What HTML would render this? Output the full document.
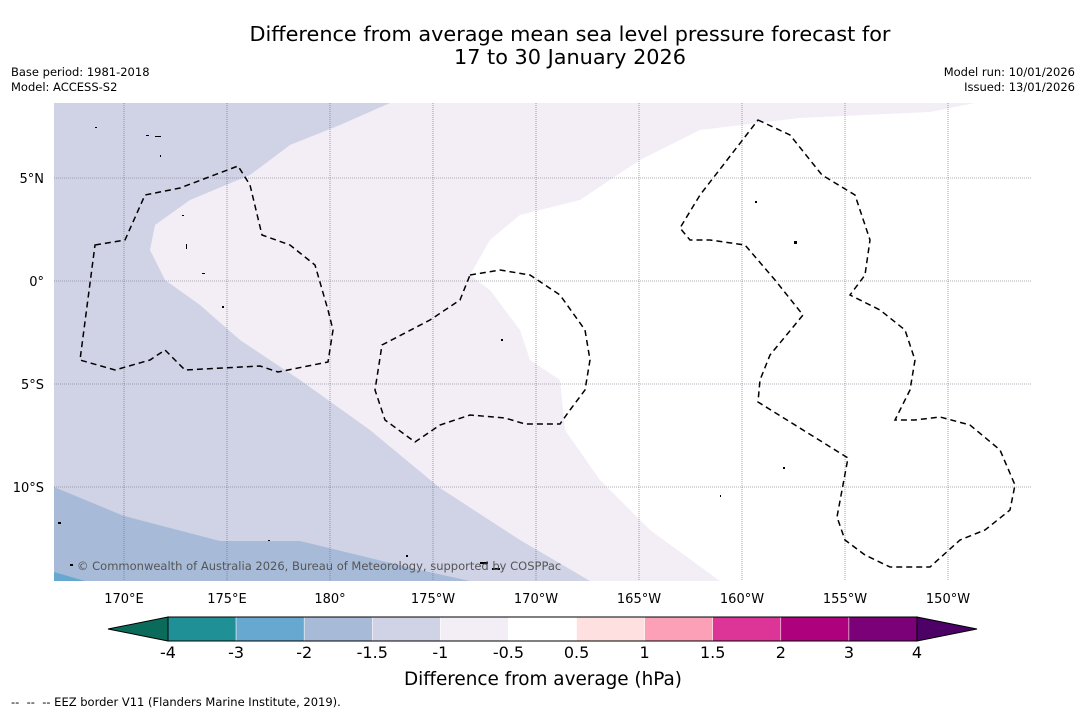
<!DOCTYPE html>
<html><head><meta charset="utf-8"><style>
body{margin:0;background:#fff;width:1085px;height:713px;overflow:hidden;font-family:"DejaVu Sans","Liberation Sans",sans-serif}
svg{display:block}
</style></head><body>
<svg id="fig" width="1085" height="713">
<text x="570" y="41" font-size="20.8" text-anchor="middle">Difference from average mean sea level pressure forecast for</text>
<text x="570" y="64" font-size="20.8" text-anchor="middle">17 to 30 January 2026</text>
<text x="11" y="76" font-size="11.5">Base period: 1981-2018</text>
<text x="11" y="91" font-size="11.5">Model: ACCESS-S2</text>
<text x="1075" y="76" font-size="11.5" text-anchor="end">Model run: 10/01/2026</text>
<text x="1075" y="91" font-size="11.5" text-anchor="end">Issued: 13/01/2026</text>
<defs><clipPath id="mc"><rect x="54" y="103" width="977" height="478"/></clipPath></defs>
<g clip-path="url(#mc)">
<rect x="54" y="103" width="977" height="478" fill="#d0d2e6"/>
<path d="M390,103 L340,125 L290,145 L250,175 L190,200 L155,225 L150,250 L165,280 L200,305 L240,340 L300,380 L370,430 L440,488 L520,540 L590,581 L1031,581 L1031,103Z" fill="#f3eef6"/>
<path d="M975,103 L930,112 L800,118 L700,130 L640,160 L580,200 L520,215 L490,240 L470,275 L490,290 L520,330 L530,360 L560,380 L565,430 L600,480 L650,530 L720,581 L1031,581 L1031,103Z" fill="#ffffff"/>
<path d="M54,487 L124,516 L220,541 L300,541 L420,570 L470,581 L54,581Z" fill="#a7bbd8"/>
<path d="M54,572 L85,581 L54,581Z" fill="#66a8cf"/>
<g id="grid"></g>
<g fill="none" stroke="#000" stroke-width="1.5" stroke-dasharray="6,4">
<path d="M95,245 L125,240 L145,195 L180,188 L238,166 L250,185 L262,235 L290,245 L315,265 L328,310 L333,330 L328,362 L278,372 L260,366 L185,370 L165,350 L150,360 L115,370 L80,360 Z"/>
<path d="M470,275 L500,270 L530,275 L560,295 L585,330 L590,360 L585,390 L570,410 L560,424 L525,424 L505,418 L470,415 L440,425 L415,442 L385,420 L375,390 L382,345 L430,320 L460,300 Z"/>
<path d="M758,120 L790,135 L822,175 L855,195 L870,240 L865,275 L850,295 L880,310 L905,330 L915,360 L910,390 L895,420 L915,420 L940,417 L970,425 L1000,450 L1015,485 L1010,510 L985,530 L960,540 L930,567 L890,567 L865,555 L845,540 L837,517 L848,458 L758,402 L760,380 L770,355 L803,315 L775,280 L745,245 L710,240 L690,240 L680,228 L700,195 Z"/>
</g>
<g fill="#000">
<rect x="146" y="135" width="3" height="1"/><rect x="155" y="136" width="6" height="1"/><rect x="95" y="127" width="2" height="1"/><rect x="160" y="155" width="1" height="2"/>
<rect x="182" y="215" width="2" height="1"/><rect x="186" y="244" width="1" height="5"/><rect x="202" y="273" width="3" height="1"/>
<rect x="222" y="306" width="2" height="2"/><rect x="501" y="339" width="2" height="2"/><rect x="755" y="201" width="2" height="2"/>
<rect x="794" y="241" width="3" height="3"/><rect x="783" y="467" width="2" height="2"/><rect x="720" y="495" width="1" height="2"/>
<rect x="480" y="562" width="8" height="2"/><rect x="492" y="568" width="8" height="2"/><rect x="58" y="522" width="3" height="2"/>
<rect x="268" y="540" width="2" height="1"/><rect x="406" y="555" width="2" height="2"/><rect x="70" y="564" width="3" height="2"/>
</g>
<text x="77" y="570" font-size="11.5" fill="#555">© Commonwealth of Australia 2026, Bureau of Meteorology, supported by COSPPac</text>
</g>
<g id="axes"></g>
<g id="cbar"></g>
<text x="543" y="685" font-size="18.4" text-anchor="middle">Difference from average (hPa)</text>
<text x="11" y="706" font-size="11.5" style="white-space:pre">--  --  -- EEZ border V11 (Flanders Marine Institute, 2019).</text>
</svg>
<script>
const lonTicks=[170,175,180,185,190,195,200,205,210];
const lonLabels=["170°E","175°E","180°","175°W","170°W","165°W","160°W","155°W","150°W"];
const latTicks=[5,0,-5,-10];
const latLabels=["5°N","0°","5°S","10°S"];
const levels=["-4","-3","-2","-1.5","-1","-0.5","0.5","1","1.5","2","3","4"];
const colors=["#1f9196","#66a8cf","#a7bbd8","#d0d2e6","#f3eef6","#ffffff","#fee0e0","#fba0b6","#dd3497","#ae017e","#7a0177"];
const NS="http://www.w3.org/2000/svg";
function xLon(l){return 124+(l-170)*20.6;}
function yLat(l){return 281-l*20.6;}
function mk(t,a,p){const e=document.createElementNS(NS,t);for(const k in a)e.setAttribute(k,a[k]);p.appendChild(e);return e;}
const grid=document.getElementById('grid'),axes=document.getElementById('axes');
lonTicks.forEach((l,i)=>{
 const g=mk('line',{x1:xLon(l),x2:xLon(l),y1:103,y2:581,stroke:'#667',"stroke-width":0.6,"stroke-dasharray":"1,1"},grid);
 
 
 const t=mk('text',{x:xLon(l),y:603,"font-size":13,"text-anchor":"middle"},axes);t.textContent=lonLabels[i];
 
 
});
latTicks.forEach((l,i)=>{
 const g=mk('line',{x1:54,x2:1031,y1:yLat(l),y2:yLat(l),stroke:'#667',"stroke-width":0.6,"stroke-dasharray":"1,1"},grid);
 
 
 const t=mk('text',{x:44,y:yLat(l)+5,"font-size":13,"text-anchor":"end"},axes);t.textContent=latLabels[i];
 
 
});
const cb=document.getElementById('cbar');
const x0=168,x1=917,y0=617,h=24,w=(x1-x0)/colors.length;
const lo=mk('polygon',{points:`${x0},${y0} 108,${y0+h/2} ${x0},${y0+h}`,fill:'#0b6b5a',stroke:'#000'},cb);


const hi=mk('polygon',{points:`${x1},${y0} 977,${y0+h/2} ${x1},${y0+h}`,fill:'#4d0066',stroke:'#000'},cb);


colors.forEach((c,i)=>{
 const r=mk('rect',{x:x0+i*w,y:y0,width:w,height:h,fill:c,stroke:'#fff',"stroke-width":0.5},cb);
 
 
});
mk('rect',{x:x0,y:y0,width:x1-x0,height:h,fill:'none',stroke:'#000'},cb);
levels.forEach((v,i)=>{
 const t=mk('text',{x:x0+i*w,y:658,"font-size":16,"text-anchor":"middle"},cb);t.textContent=v;
 
 
});
</script>
</body></html>
